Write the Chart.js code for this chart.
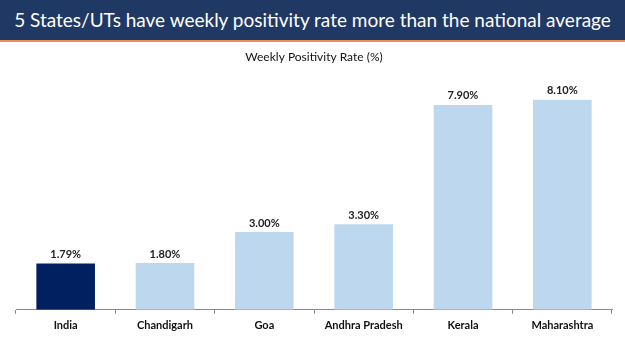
<!DOCTYPE html>
<html>
<head>
<meta charset="utf-8">
<script src="https://cdn.jsdelivr.net/npm/chart.js@4"></script>
<style>
    body { margin: 0; background: #fff; overflow: hidden; }
    .banner {
        width: 625px; height: 40px; background: #1F3864;
        border-bottom: 2px solid #E8915A;
        color: #fff; font-family: Lato, sans-serif; font-size: 19px;
        line-height: 40px; text-align: center; white-space: nowrap;
    }
    .chart-box { width: 625px; height: 309px; position: relative; }
</style>
</head>
<body>
<div class="banner">5 States/UTs have weekly positivity rate more than the national average</div>
<div class="chart-box"><canvas id="positivity"></canvas></div>
<script>
// Chart data
const categories = ['India', 'Chandigarh', 'Goa', 'Andhra Pradesh', 'Kerala', 'Maharashtra'];
const positivity = [1.79, 1.80, 3.00, 3.30, 7.90, 8.10];
const barColors = ['#002060', '#BDD7EE', '#BDD7EE', '#BDD7EE', '#BDD7EE', '#BDD7EE'];

// value labels above bars
const valueLabels = {
    id: 'valueLabels',
    afterDatasetsDraw(chart) {
        const ctx = chart.ctx;
        const meta = chart.getDatasetMeta(0);
        ctx.save();
        ctx.font = 'bold 11px Lato, sans-serif';
        ctx.fillStyle = '#222';
        ctx.textAlign = 'center';
        ctx.textBaseline = 'middle';
        meta.data.forEach(function (bar, i) {
            ctx.fillText(positivity[i].toFixed(2) + '%', bar.x, bar.y - 9);
        });
        ctx.restore();
    }
};

new Chart(document.getElementById('positivity'), {
    type: 'bar',
    data: {
        labels: categories,
        datasets: [{
            data: positivity,
            backgroundColor: barColors,
            borderWidth: 0,
            categoryPercentage: 1,
            barPercentage: 0.59
        }]
    },
    options: {
        responsive: true,
        maintainAspectRatio: false,
        animation: false,
        layout: {
            padding: { left: 16, right: 13, top: 0, bottom: 14 }
        },
        scales: {
            x: {
                grid: {
                    drawOnChartArea: false,
                    drawTicks: true,
                    tickLength: 4,
                    color: '#888'
                },
                border: { display: true, color: '#888', width: 1 },
                ticks: {
                    color: '#111',
                    padding: 5,
                    font: { family: 'Lato, sans-serif', size: 11, weight: 'bold' }
                }
            },
            y: {
                display: false,
                min: 0,
                max: 9
            }
        },
        plugins: {
            legend: { display: false },
            tooltip: { enabled: false },
            title: {
                display: true,
                text: 'Weekly Positivity Rate (%)',
                color: '#111',
                font: { family: 'Lato, sans-serif', size: 12, weight: 'normal' },
                padding: { top: 8, bottom: 12 }
            }
        }
    },
    plugins: [valueLabels]
});
</script>
</body>
</html>
